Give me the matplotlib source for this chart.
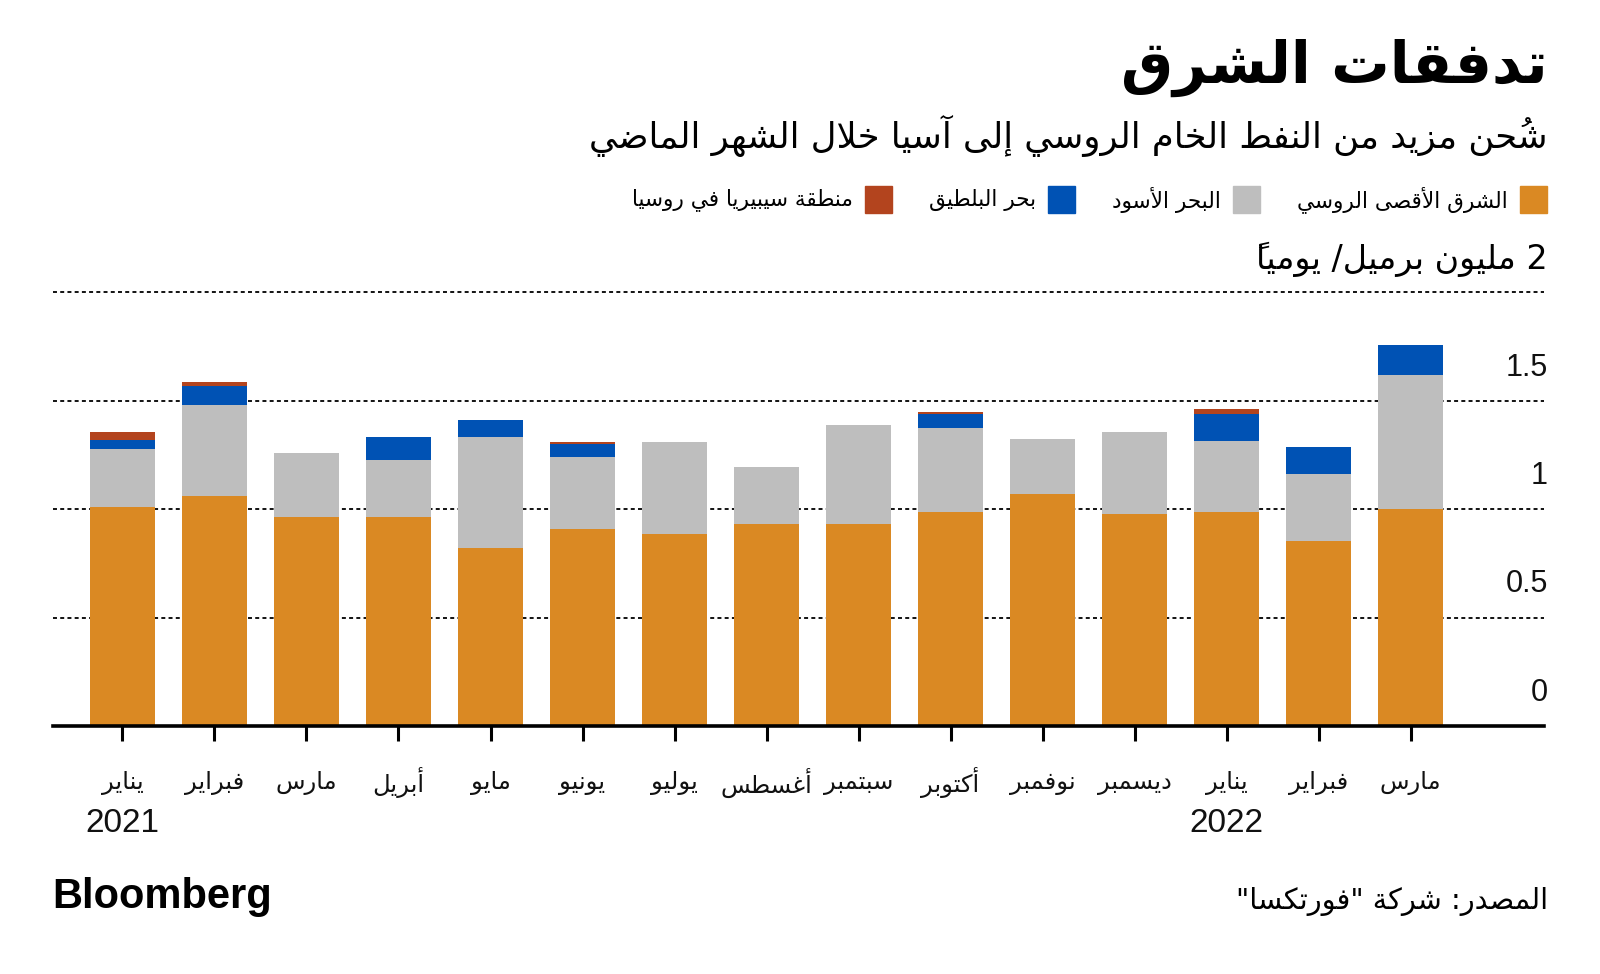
import numpy as np
import matplotlib
matplotlib.use("Agg")
import matplotlib.pyplot as plt
from matplotlib.patches import Rectangle

# ---------------- data ----------------
months = ["يناير", "فبراير", "مارس", "أبريل", "مايو", "يونيو", "يوليو", "أغسطس",
          "سبتمبر", "أكتوبر", "نوفمبر", "ديسمبر", "يناير", "فبراير", "مارس"]
years = {0: "2021", 12: "2022"}
far_east = [1.01, 1.06, 0.963, 0.963, 0.82, 0.908, 0.885, 0.931, 0.931, 0.986, 1.068, 0.978, 0.988, 0.854, 1.001]
black_sea = [0.265, 0.42, 0.294, 0.261, 0.51, 0.333, 0.425, 0.264, 0.458, 0.389, 0.255, 0.378, 0.324, 0.306, 0.618]
baltic = [0.045, 0.087, 0.0, 0.109, 0.08, 0.057, 0.0, 0.0, 0.0, 0.061, 0.0, 0.0, 0.127, 0.127, 0.137]
siberia = [0.035, 0.017, 0.0, 0.0, 0.0, 0.012, 0.0, 0.0, 0.0, 0.012, 0.0, 0.0, 0.02, 0.0, 0.0]
series_names = ["الشرق الأقصى الروسي", "البحر الأسود", "بحر البلطيق", "منطقة سيبيريا في روسيا"]
colors = ["#DA8923", "#BEBEBE", "#0052B4", "#B3441E"]
yticks = [0, 0.5, 1, 1.5]
ytick_labels = ["0", "0.5", "1", "1.5"]
title = "تدفقات الشرق"
subtitle = "شُحن مزيد من النفط الخام الروسي إلى آسيا خلال الشهر الماضي"
unit_label = "2 مليون برميل/ يومياً"
source = "المصدر: شركة \"فورتكسا\""

# ---------------- minimal Arabic shaping ----------------
_blocks = [("\u0621", 0xFE80, 1), ("\u0622", 0xFE81, 2), ("\u0623", 0xFE83, 2),
           ("\u0624", 0xFE85, 2), ("\u0625", 0xFE87, 2), ("\u0626", 0xFE89, 4),
           ("\u0627", 0xFE8D, 2), ("\u0628", 0xFE8F, 4), ("\u0629", 0xFE93, 2),
           ("\u062A", 0xFE95, 4), ("\u062B", 0xFE99, 4), ("\u062C", 0xFE9D, 4),
           ("\u062D", 0xFEA1, 4), ("\u062E", 0xFEA5, 4), ("\u062F", 0xFEA9, 2),
           ("\u0630", 0xFEAB, 2), ("\u0631", 0xFEAD, 2), ("\u0632", 0xFEAF, 2),
           ("\u0633", 0xFEB1, 4), ("\u0634", 0xFEB5, 4), ("\u0635", 0xFEB9, 4),
           ("\u0636", 0xFEBD, 4), ("\u0637", 0xFEC1, 4), ("\u0638", 0xFEC5, 4),
           ("\u0639", 0xFEC9, 4), ("\u063A", 0xFECD, 4), ("\u0641", 0xFED1, 4),
           ("\u0642", 0xFED5, 4), ("\u0643", 0xFED9, 4), ("\u0644", 0xFEDD, 4),
           ("\u0645", 0xFEE1, 4), ("\u0646", 0xFEE5, 4), ("\u0647", 0xFEE9, 4),
           ("\u0648", 0xFEED, 2), ("\u0649", 0xFEEF, 2), ("\u064A", 0xFEF1, 4)]
FORMS = {c: (s, n) for c, s, n in _blocks}
LAMALEF = {"\u0622": 0xFEF5, "\u0623": 0xFEF7, "\u0625": 0xFEF9, "\u0627": 0xFEFB}


def _is_mark(ch):
    return "\u064B" <= ch <= "\u065F" or ch == "\u0670"


def shape(text):
    clusters = []
    for ch in text:
        if _is_mark(ch) and clusters:
            clusters[-1][1] += ch
        else:
            clusters.append([ch, ""])
    merged = []
    i = 0
    while i < len(clusters):
        b, m = clusters[i]
        if b == "\u0644" and i + 1 < len(clusters) and clusters[i + 1][0] in LAMALEF:
            merged.append(["LA" + clusters[i + 1][0], m + clusters[i + 1][1]])
            i += 2
        else:
            merged.append([b, m])
            i += 1

    def joins(b):
        if b.startswith("LA"):
            return 2
        if b in FORMS:
            return FORMS[b][1]
        return 0

    out = []
    for i, (b, m) in enumerate(merged):
        prev = merged[i - 1][0] if i > 0 else None
        nxt = merged[i + 1][0] if i + 1 < len(merged) else None
        jp = prev is not None and joins(prev) == 4 and joins(b) >= 2
        jn = nxt is not None and joins(b) == 4 and joins(nxt) >= 2
        if b.startswith("LA"):
            g = chr(LAMALEF[b[2]] + (1 if jp else 0))
        elif b in FORMS:
            s, n = FORMS[b]
            if n == 4:
                idx = 3 if (jp and jn) else 1 if jp else 2 if jn else 0
            elif n == 2:
                idx = 1 if jp else 0
            else:
                idx = 0
            g = chr(s + idx)
        else:
            g = b
        # zero-advance marks are drawn before their base in visual order
        out.append(m + g)
    return "".join(reversed(out))


# ---------------- figure ----------------
W, H = 1600, 974
fig = plt.figure(figsize=(W / 100, H / 100), dpi=100)
AR = ["DejaVu Sans"]
LAT = ["Liberation Sans", "DejaVu Sans"]

x_left, x_right, y_base, y_top = 53, 1544, 726, 292
ax = fig.add_axes([x_left / W, 1 - y_base / H, (x_right - x_left) / W, (y_base - y_top) / H])

x = np.arange(len(months))
bottom = np.zeros(len(months))
for vals, c in zip([far_east, black_sea, baltic, siberia], colors):
    v = np.array(vals)
    ax.bar(x, v, width=0.7, bottom=bottom, color=c, zorder=1, linewidth=0)
    bottom += v

ax.set_xlim(-0.755, len(months) - 1 + 1.45)
ax.set_ylim(0, 2)
for s in ax.spines.values():
    s.set_visible(False)

for v in [0.5, 1, 1.5, 2]:
    ax.axhline(v, color="black", lw=1.3, ls=(0, (2.2, 1.8)), zorder=0, clip_on=False)
ax.axhline(0, color="black", lw=2.6, zorder=3, clip_on=False)

ax.set_yticks([])
ax.set_xticks(x)
ax.set_xticklabels([])
ax.tick_params(axis="x", length=11, width=2.2, direction="out", color="black")

for v, lab in zip(yticks, ytick_labels):
    ax.annotate(lab, xy=(1, v), xycoords=("axes fraction", "data"),
                xytext=(4, 33), textcoords="offset pixels",
                ha="right", va="center", fontsize=22, family=LAT, color="#111111")

for i, m in enumerate(months):
    ax.annotate(shape(m), xy=(i, H - 783), xycoords=("data", "figure pixels"),
                ha="center", va="center", fontsize=17.5, family=AR, color="#111111")
for i, yr in years.items():
    ax.annotate(yr, xy=(i, H - 823), xycoords=("data", "figure pixels"),
                ha="center", va="center", fontsize=24, family=LAT, color="#111111")


def ftext(px, py, s, **kw):
    return fig.text(px / W, 1 - py / H, s, **kw)


ftext(1548, 68, shape(title), ha="right", va="center", fontsize=42, fontweight="bold", family=AR)
ftext(1548, 136, shape(subtitle), ha="right", va="center", fontsize=25.5, family=AR)
ftext(1548, 259, shape(unit_label), ha="right", va="center", fontsize=24, family=AR)
ftext(1548, 901, shape(source), ha="right", va="center", fontsize=20.7, family=AR)
ftext(52, 897, "Bloomberg", ha="left", va="center", fontsize=30, fontweight="bold", family=LAT)

# legend flowing right-to-left
renderer = fig.canvas.get_renderer()
cur = 1547
ly = 200
sq = 27
for name, c in zip(series_names, colors):
    fig.patches.append(Rectangle(((cur - sq) / W, 1 - (ly + sq / 2) / H), sq / W, sq / H,
                                 transform=fig.transFigure, color=c, figure=fig))
    t = ftext(cur - sq - 12, ly, shape(name), ha="right", va="center", fontsize=15.6, family=AR)
    bb = t.get_window_extent(renderer)
    cur = bb.x0 - 37

fig.savefig("out.png", dpi=100, facecolor="white")
